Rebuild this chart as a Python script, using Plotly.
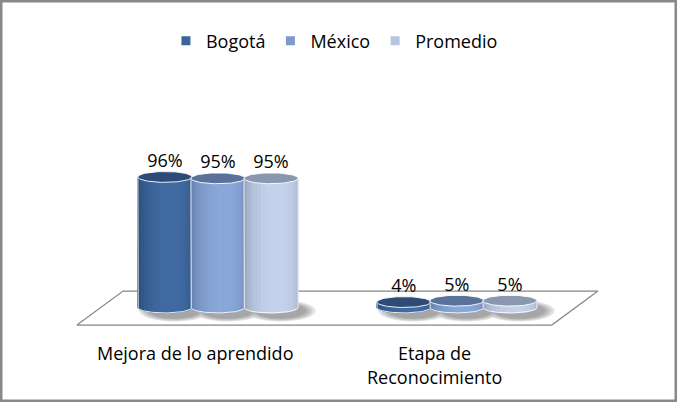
import numpy as np
import plotly.graph_objects as go

# data
categories = ["Mejora de lo aprendido", "Etapa de<br>Reconocimiento"]
series_names = ["Bogotá", "México", "Promedio"]
bogota = [96, 4]
mexico = [95, 5]
promedio = [95, 5]
series_values = [bogota, mexico, promedio]

# colours: legend, cylinder edge, cylinder middle, cylinder top
legend_colors = ["#3d6498", "#7c9acb", "#b6c5e2"]
edge_colors = ["#1e3860", "#4c6792", "#7b879c"]
mid_colors = ["#406ba2", "#89a7d8", "#c5d2ec"]
top_colors = ["#2d4b76", "#5a729a", "#8a97ae"]

FONT = "Open Sans"
FS = 18
pitch = 0.222   # distance between cylinders in a group
a = 0.113       # cylinder radius (x units)
b = 4.0         # ellipse half height (y units, %)
n_strips = 18


def hex_rgb(h):
    h = h.lstrip("#")
    return np.array([int(h[i:i + 2], 16) for i in (0, 2, 4)], dtype=float)


def mix(c1, c2, t):
    c = hex_rgb(c1) * (1 - t) + hex_rgb(c2) * t
    return "rgb(%d,%d,%d)" % tuple(c.round())


fig = go.Figure()

# floor of the 3d plot
floor_x = [-0.590, -0.397, 1.590, 1.397, -0.590]
floor_y = [-12.9, 12.1, 12.1, -12.9, -12.9]
fig.add_trace(go.Scatter(x=floor_x, y=floor_y, mode="lines", fill="toself",
                         fillcolor="white", line=dict(color="#868686", width=1.2),
                         hoverinfo="skip", showlegend=False))

# soft shadows under the cylinders
for layer, scale in enumerate([1.3, 1.18, 1.06, 0.95]):
    sx, sy = [], []
    for s in range(3):
        for i in range(len(categories)):
            cx = i + (s - 1) * pitch + 0.04
            th = np.linspace(0, 2 * np.pi, 50)
            sx += list(cx + a * scale * np.cos(th)) + [None]
            sy += list(-2.5 + b * 1.5 * scale * np.sin(th)) + [None]
    fig.add_trace(go.Scatter(x=sx, y=sy, mode="none", fill="toself",
                             fillcolor="rgba(80,80,80,0.16)",
                             hoverinfo="skip", showlegend=False))

th_edges = np.linspace(np.pi, 0, n_strips + 1)
th_full = np.linspace(0, 2 * np.pi, 80)
th_half = np.linspace(np.pi, 2 * np.pi, 40)

for s, vals in enumerate(series_values):
    # body, in vertical strips for a round shading
    for k in range(n_strips):
        t = (k + 0.5) / n_strips
        g = np.cos((t - 0.58) * np.pi / 1.2) ** 0.8
        col = mix(edge_colors[s], mid_colors[s], g)
        xs, ys = [], []
        for i, v in enumerate(vals):
            cx = i + (s - 1) * pitch
            x0, x1 = cx + a * np.cos(th_edges[k]), cx + a * np.cos(th_edges[k + 1])
            y0, y1 = -b * np.sin(th_edges[k]), -b * np.sin(th_edges[k + 1])
            xs += [x0, x1, x1, x0, x0, None]
            ys += [v, v, y1, y0, v, None]
        fig.add_trace(go.Scatter(x=xs, y=ys, mode="lines", fill="toself",
                                 fillcolor=col, line=dict(color=col, width=1),
                                 hoverinfo="skip", showlegend=False))
    # white outline of the body
    ox, oy = [], []
    for i, v in enumerate(vals):
        cx = i + (s - 1) * pitch
        ox += [cx - a] + list(cx + a * np.cos(th_half)) + [cx + a, None]
        oy += [v] + list(b * np.sin(th_half)) + [v, None]
    fig.add_trace(go.Scatter(x=ox, y=oy, mode="lines",
                             line=dict(color="rgba(255,255,255,0.85)", width=1),
                             hoverinfo="skip", showlegend=False))
    # top ellipse
    tx, ty = [], []
    for i, v in enumerate(vals):
        cx = i + (s - 1) * pitch
        tx += list(cx + a * np.cos(th_full)) + [None]
        ty += list(v + b * np.sin(th_full)) + [None]
    fig.add_trace(go.Scatter(x=tx, y=ty, mode="lines", fill="toself",
                             fillcolor=top_colors[s],
                             line=dict(color="rgba(255,255,255,0.9)", width=1),
                             hoverinfo="skip", showlegend=False))

# data labels
for s, vals in enumerate(series_values):
    xs = [i + (s - 1) * pitch for i in range(len(vals))]
    fig.add_trace(go.Scatter(x=xs, y=[v + b for v in vals], mode="text",
                             text=["%d%%" % v for v in vals],
                             textposition="top center",
                             textfont=dict(family=FONT, size=FS, color="black"),
                             hoverinfo="skip", showlegend=False))

# legend entries
for s, name in enumerate(series_names):
    fig.add_trace(go.Scatter(x=[None], y=[None], mode="markers", name=name,
                             marker=dict(symbol="square", size=9,
                                         color=legend_colors[s])))

# category labels, sitting at the front edge of the floor (one line at a time)
for i, cat in enumerate(categories):
    for j, line in enumerate(cat.split("<br>")):
        fig.add_annotation(x=i - 0.095, y=-33.5 - j * 17.5, xref="x", yref="y",
                           text=line, showarrow=False, yanchor="middle",
                           font=dict(family=FONT, size=FS, color="black"))

fig.update_layout(
    width=677, height=402,
    margin=dict(l=0, r=0, t=0, b=0),
    paper_bgcolor="white", plot_bgcolor="white",
    xaxis=dict(range=[-0.912, 1.921], visible=False, fixedrange=True),
    yaxis=dict(range=[-69.5, 226.1], visible=False, fixedrange=True),
    legend=dict(orientation="h", x=0.494, xanchor="center", y=0.898, yanchor="middle",
                font=dict(family=FONT, size=FS, color="black"),
                itemwidth=30, bgcolor="rgba(0,0,0,0)"),
    shapes=[dict(type="rect", xref="paper", yref="paper", x0=0, y0=0, x1=1, y1=1,
                 line=dict(color="#898989", width=5))],
)

fig.write_html("out.html", config={"displayModeBar": False},
               post_script="document.body.style.margin='0';")
